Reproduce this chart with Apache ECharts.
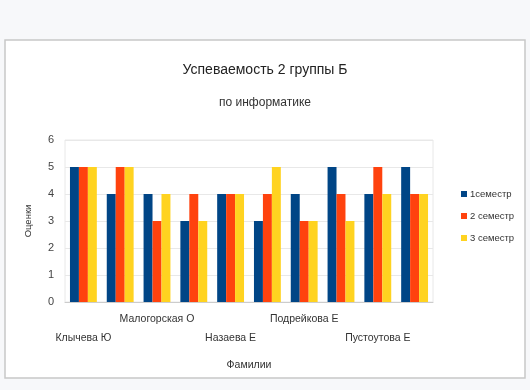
<!DOCTYPE html>
<html>
<head>
<meta charset="utf-8">
<script src="https://cdn.jsdelivr.net/npm/echarts@6/dist/echarts.min.js"></script>
<style>
  html, body { margin: 0; padding: 0; background: #f7f8fa; }
  #chart { width: 530px; height: 390px; }
</style>
</head>
<body>
<div id="chart"></div>
<script>
// фамилии (подписаны только через одну, как на слайде)
const students = ['Клычева Ю', '', 'Малогорская О', '', 'Назаева Е', '', 'Подрейкова Е', '', 'Пустоутова Е', '']
const sem1 = [5, 4, 4, 3, 4, 3, 4, 5, 4, 5]
const sem2 = [5, 5, 3, 4, 4, 4, 3, 4, 5, 4]
const sem3 = [5, 5, 4, 3, 4, 5, 3, 3, 4, 4]
const seriesNames = ['1семестр', '2 семестр', '3 семестр']
const colors = ['#004586', '#ff420e', '#ffd320']

const chart = echarts.init(document.getElementById('chart'))

const barStyle = {
  type: 'bar',
  barGap: 0,
  barCategoryGap: '27%'
}

chart.setOption({
  backgroundColor: '#f7f8fa',
  textStyle: { fontFamily: 'Liberation Sans, Arial, sans-serif' },
  color: colors,
  graphic: [
    {
      type: 'rect',
      z: -10,
      shape: { x: 5, y: 40, width: 520, height: 338 },
      style: { fill: '#ffffff', stroke: '#c8c8c8', lineWidth: 1.5 }
    }
  ],
  title: {
    text: 'Успеваемость 2 группы Б',
    subtext: 'по информатике',
    left: 'center',
    top: 58,
    itemGap: 20,
    textStyle: { fontSize: 14, fontWeight: 'normal', color: '#222' },
    subtextStyle: { fontSize: 12, color: '#333' }
  },
  legend: {
    orient: 'vertical',
    left: 456,
    top: 184,
    itemWidth: 6,
    itemHeight: 6,
    itemGap: 12,
    icon: 'rect',
    textStyle: { fontSize: 9.5, color: '#333', padding: [0, 0, 0, -2] }
  },
  grid: {
    left: 65,
    right: 97,
    top: 140,
    bottom: 88,
    show: true,
    borderColor: '#e8e8e8',
    borderWidth: 1
  },
  xAxis: {
    type: 'category',
    data: students,
    name: 'Фамилии',
    nameLocation: 'middle',
    nameGap: 58,
    nameTextStyle: { fontSize: 10.5, color: '#333' },
    axisLine: { lineStyle: { color: '#cccccc' } },
    axisTick: { show: false },
    axisLabel: {
      interval: 0,
      margin: 8,
      fontSize: 10.5,
      color: '#333',
      lineHeight: 19,
      formatter: (value, index) => (index % 4 === 0 ? '\n' + value : value)
    }
  },
  yAxis: {
    type: 'value',
    min: 0,
    max: 6,
    interval: 1,
    name: 'Оценки',
    nameLocation: 'middle',
    nameGap: 32,
    nameTextStyle: { fontSize: 9.5, color: '#333' },
    axisLine: { show: false },
    axisTick: { show: false },
    axisLabel: { fontSize: 11, color: '#444', margin: 11 },
    splitLine: { lineStyle: { color: '#e8e8e8' } }
  },
  series: [
    { ...barStyle, name: seriesNames[0], data: sem1 },
    { ...barStyle, name: seriesNames[1], data: sem2 },
    { ...barStyle, name: seriesNames[2], data: sem3 }
  ]
})
</script>
</body>
</html>
